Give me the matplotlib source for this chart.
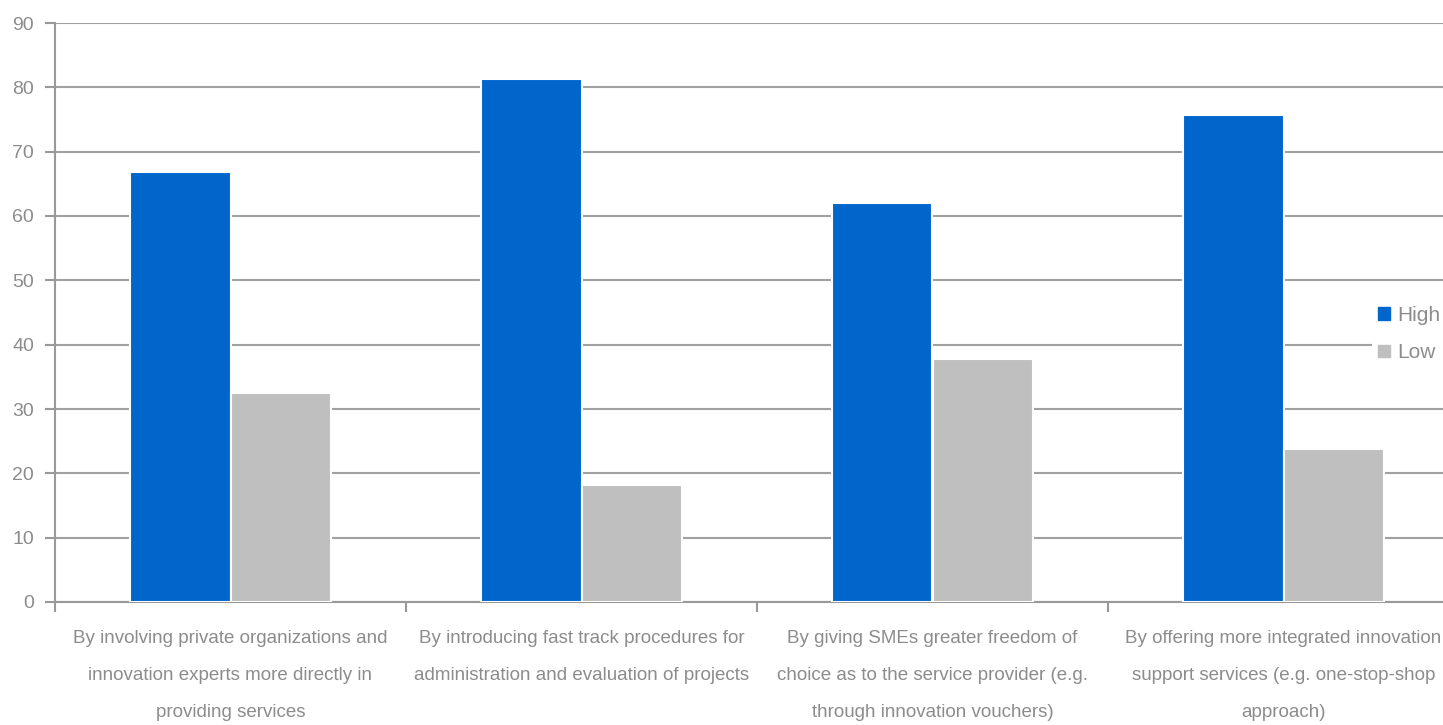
import numpy as np
import matplotlib
matplotlib.use("Agg")
import matplotlib.pyplot as plt
from matplotlib.patches import Patch

categories = [
    "By involving private organizations and\ninnovation experts more directly in\nproviding services",
    "By introducing fast track procedures for\nadministration and evaluation of projects",
    "By giving SMEs greater freedom of\nchoice as to the service provider (e.g.\nthrough innovation vouchers)",
    "By offering more integrated innovation\nsupport services (e.g. one-stop-shop\napproach)",
]
high = [66.8, 81.3, 62.0, 75.7]
low = [32.5, 18.2, 37.8, 23.8]
series_names = ["High", "Low"]

C_HIGH, C_LOW, C_TXT, C_AX = "#0066CC", "#BFBFBF", "#8C8C8C", "#999999"
plt.rcParams["font.family"] = ["Liberation Sans", "DejaVu Sans"]

fig = plt.figure(figsize=(14.43, 7.25), dpi=100)
ax = fig.add_axes([55 / 1443, 1 - 602 / 725, (1459 - 55) / 1443, (602 - 23) / 725])

x = np.arange(len(categories))
w = 0.285
ax.bar(x - w / 2, high, w, color=C_HIGH, edgecolor="white", linewidth=1.5, zorder=3)
ax.bar(x + w / 2, low, w, color=C_LOW, edgecolor="white", linewidth=1.5, zorder=3)

ax.set_xlim(-0.5, len(categories) - 0.5)
ax.set_ylim(0, 90)
ax.set_yticks(np.arange(0, 91, 10))
ax.yaxis.grid(True, color="#A0A0A0", lw=1.5, zorder=0)
ax.set_axisbelow(True)
for s in ["top", "right"]:
    ax.spines[s].set_visible(False)
for s in ["left", "bottom"]:
    ax.spines[s].set_color(C_AX); ax.spines[s].set_linewidth(1.5)

# category boundaries get the ticks, labels are drawn as centred text
ax.set_xticks(np.arange(-0.5, len(categories), 1))
ax.set_xticklabels([])
ax.tick_params(axis="x", direction="out", length=7, width=1.5, color=C_AX)
ax.tick_params(axis="y", direction="out", length=7, width=1.5, color=C_AX,
               labelcolor=C_TXT, labelsize=14, pad=8)
for xi, lab in zip(x, categories):
    ax.text(xi, -4.3, lab, ha="center", va="top", fontsize=13.5, color=C_TXT,
            linespacing=2.55)

leg = fig.legend(handles=[Patch(color=C_HIGH, label=series_names[0]),
                          Patch(color=C_LOW, label=series_names[1])],
                 loc="center left", bbox_to_anchor=(1372 / 1443, 1 - 334 / 725),
                 frameon=True, facecolor="white", edgecolor="none", framealpha=1,
                 fontsize=15, labelcolor=C_TXT, handlelength=0.55, handleheight=0.55,
                 handletextpad=0.35, labelspacing=0.9, borderpad=0.3, borderaxespad=0)

fig.savefig("out.png", dpi=100)
